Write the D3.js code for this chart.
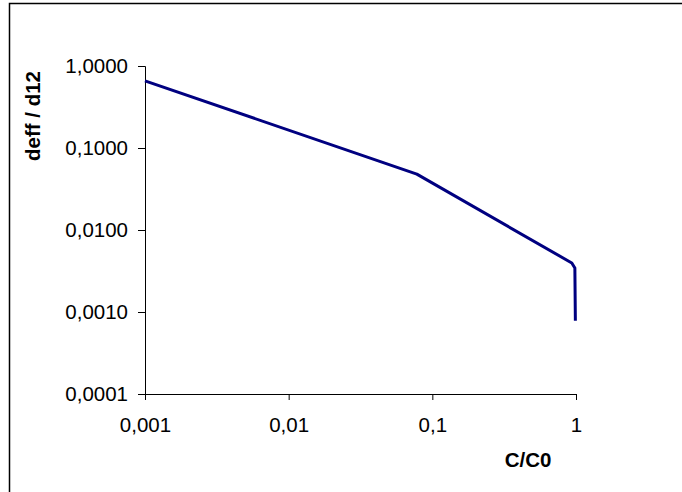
<!DOCTYPE html>
<html>
<head>
<meta charset="utf-8">
<script src="https://cdn.jsdelivr.net/npm/d3@7"></script>
<style>
  body { margin: 0; background: #fff; }
  text { font-family: "Liberation Sans", Arial, sans-serif; }
</style>
</head>
<body>
<div id="chart"></div>
<script>
// data
var ratio = [0.001, 0.078, 0.935, 0.982, 0.99];
var deff = [0.66, 0.048, 0.00396, 0.00344, 0.00078];
var xTicks = [0.001, 0.01, 0.1, 1];
var yTicks = [0.0001, 0.001, 0.01, 0.1, 1];

var w = 682, h = 492;
var margin = { top: 66, right: 106, bottom: 98, left: 145 },
    width = w - margin.left - margin.right,
    height = h - margin.top - margin.bottom;

var svg = d3.select("#chart")
    .append("svg")
    .attr("width", w)
    .attr("height", h);

// outer frame (cut off at right and bottom)
svg.append("rect")
    .attr("x", 9.5).attr("y", 3.5)
    .attr("width", 700).attr("height", 520)
    .attr("fill", "none")
    .attr("stroke", "#000")
    .attr("stroke-width", 1.5);

var g = svg.append("g")
    .attr("transform", "translate(" + margin.left + "," + margin.top + ")");

var x = d3.scaleLog().domain([0.001, 1]).range([0, width]);
var y = d3.scaleLog().domain([0.0001, 1]).range([height, 0]);

var comma = function(s) { return s.replace(".", ","); };

// x axis
var xAxis = g.append("g")
    .attr("transform", "translate(0," + height + ")")
    .call(d3.axisBottom(x)
        .tickValues(xTicks)
        .tickSize(6)
        .tickPadding(17)
        .tickFormat(function(d) { return comma(String(+d.toPrecision(3))); }));

// y axis
var yAxis = g.append("g")
    .call(d3.axisLeft(y)
        .tickValues(yTicks)
        .tickSize(7)
        .tickPadding(10)
        .tickFormat(function(d) { return comma(d3.format(".4f")(d)); }));

[xAxis, yAxis].forEach(function(a) {
    a.attr("font-size", null).attr("font-family", null);
    a.select(".domain").attr("stroke", "#000");
    a.selectAll(".tick line").attr("stroke", "#000");
    a.selectAll(".tick text")
        .attr("fill", "#000")
        .style("font-size", "20.5px");
});

// line
var pts = ratio.map(function(r, i) { return { x: r, y: deff[i] }; });
var line = d3.line()
    .x(function(d) { return x(d.x); })
    .y(function(d) { return y(d.y); });

g.append("path")
    .datum(pts)
    .attr("fill", "none")
    .attr("stroke", "#000080")
    .attr("stroke-width", 3)
    .attr("stroke-linejoin", "round")
    .attr("d", line);

// axis titles
svg.append("text")
    .attr("x", 528).attr("y", 467)
    .attr("text-anchor", "middle")
    .style("font-size", "20.5px")
    .style("font-weight", "bold")
    .text("C/C0");

svg.append("text")
    .attr("transform", "translate(40,116) rotate(-90)")
    .attr("text-anchor", "middle")
    .style("font-size", "20.5px")
    .style("font-weight", "bold")
    .text("deff / d12");
</script>
</body>
</html>
